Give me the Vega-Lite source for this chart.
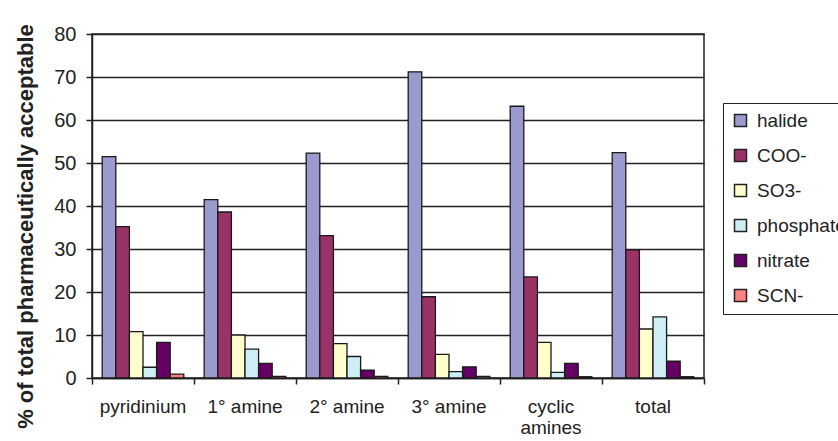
{
  "$schema": "https://vega.github.io/schema/vega-lite/v6.json",
  "width": 612,
  "height": 344,
  "autosize": {"type": "none"},
  "padding": {"left": 92, "top": 34, "right": 134, "bottom": 63},
  "background": "white",
  "config": {"view": {"stroke": "#222", "strokeWidth": 1.5}, "font": "Liberation Sans"},
  "data": {"values": [
    {"group": "pyridinium", "anion": "halide", "pct": 51.5},
    {"group": "pyridinium", "anion": "COO-", "pct": 35.2},
    {"group": "pyridinium", "anion": "SO3-", "pct": 10.8},
    {"group": "pyridinium", "anion": "phosphate", "pct": 2.5},
    {"group": "pyridinium", "anion": "nitrate", "pct": 8.3},
    {"group": "pyridinium", "anion": "SCN-", "pct": 0.9},
    {"group": "1° amine", "anion": "halide", "pct": 41.5},
    {"group": "1° amine", "anion": "COO-", "pct": 38.6},
    {"group": "1° amine", "anion": "SO3-", "pct": 10.0},
    {"group": "1° amine", "anion": "phosphate", "pct": 6.7},
    {"group": "1° amine", "anion": "nitrate", "pct": 3.4},
    {"group": "1° amine", "anion": "SCN-", "pct": 0.4},
    {"group": "2° amine", "anion": "halide", "pct": 52.3},
    {"group": "2° amine", "anion": "COO-", "pct": 33.1},
    {"group": "2° amine", "anion": "SO3-", "pct": 8.0},
    {"group": "2° amine", "anion": "phosphate", "pct": 5.0},
    {"group": "2° amine", "anion": "nitrate", "pct": 1.8},
    {"group": "2° amine", "anion": "SCN-", "pct": 0.4},
    {"group": "3° amine", "anion": "halide", "pct": 71.2},
    {"group": "3° amine", "anion": "COO-", "pct": 18.9},
    {"group": "3° amine", "anion": "SO3-", "pct": 5.5},
    {"group": "3° amine", "anion": "phosphate", "pct": 1.5},
    {"group": "3° amine", "anion": "nitrate", "pct": 2.6},
    {"group": "3° amine", "anion": "SCN-", "pct": 0.4},
    {"group": "cyclic amines", "anion": "halide", "pct": 63.2},
    {"group": "cyclic amines", "anion": "COO-", "pct": 23.5},
    {"group": "cyclic amines", "anion": "SO3-", "pct": 8.3},
    {"group": "cyclic amines", "anion": "phosphate", "pct": 1.3},
    {"group": "cyclic amines", "anion": "nitrate", "pct": 3.4},
    {"group": "cyclic amines", "anion": "SCN-", "pct": 0.3},
    {"group": "total", "anion": "halide", "pct": 52.4},
    {"group": "total", "anion": "COO-", "pct": 29.8},
    {"group": "total", "anion": "SO3-", "pct": 11.4},
    {"group": "total", "anion": "phosphate", "pct": 14.2},
    {"group": "total", "anion": "nitrate", "pct": 3.9},
    {"group": "total", "anion": "SCN-", "pct": 0.3}
  ]},
  "mark": {"type": "bar", "stroke": "#1a1a1a", "strokeWidth": 1.3},
  "encoding": {
    "x": {
      "field": "group", "type": "nominal",
      "sort": ["pyridinium", "1° amine", "2° amine", "3° amine", "cyclic amines", "total"],
      "scale": {"paddingInner": 0, "paddingOuter": 0},
      "axis": {
        "title": null, "grid": false, "labelAngle": 0,
        "bandPosition": 1, "tickExtra": true, "labelOffset": 0,
        "tickSize": 6, "labelPadding": 13, "labelFontSize": 19, "labelColor": "#222",
        "domainColor": "#222", "domainWidth": 1.5, "tickColor": "#222", "tickWidth": 1.5,
        "labelBaseline": "top", "labelLineHeight": 21, "labelOverlap": false, "labelBound": false,
        "labelExpr": "datum.label == 'cyclic amines' ? ['cyclic', 'amines'] : datum.label"
      }
    },
    "xOffset": {
      "field": "anion", "type": "nominal",
      "sort": ["halide", "COO-", "SO3-", "phosphate", "nitrate", "SCN-"],
      "scale": {"paddingInner": 0, "paddingOuter": 0.75}
    },
    "y": {
      "field": "pct", "type": "quantitative",
      "scale": {"domain": [0, 80], "nice": false},
      "axis": {
        "title": "% of total pharmaceutically acceptable",
        "titleFontSize": 22, "titleFontWeight": "bold", "titleColor": "#222",
        "titleX": -67, "titleY": 192, "titleAngle": -90, "titleAlign": "center", "titleBaseline": "middle",
        "values": [0, 10, 20, 30, 40, 50, 60, 70, 80],
        "tickSize": 6, "labelPadding": 10, "labelFontSize": 20, "labelColor": "#222",
        "grid": true, "gridColor": "#222", "gridWidth": 1.5, "gridOpacity": 1,
        "domainColor": "#222", "domainWidth": 1.5, "tickColor": "#222", "tickWidth": 1.5
      }
    },
    "color": {
      "field": "anion", "type": "nominal",
      "sort": ["halide", "COO-", "SO3-", "phosphate", "nitrate", "SCN-"],
      "scale": {
        "domain": ["halide", "COO-", "SO3-", "phosphate", "nitrate", "SCN-"],
        "range": ["#9A9ACF", "#993366", "#FFFFCC", "#CCEEF4", "#660066", "#FF8080"]
      },
      "legend": {
        "title": null, "orient": "none", "legendX": 631, "legendY": 69,
        "symbolType": "square", "symbolSize": 144, "symbolStrokeColor": "#222", "symbolStrokeWidth": 1.5,
        "symbolOpacity": 1,
        "labelFontSize": 19, "labelColor": "#222", "labelOffset": 7,
        "padding": 8, "rowPadding": 15,
        "strokeColor": "#222", "fillColor": "white"
      }
    }
  }
}
